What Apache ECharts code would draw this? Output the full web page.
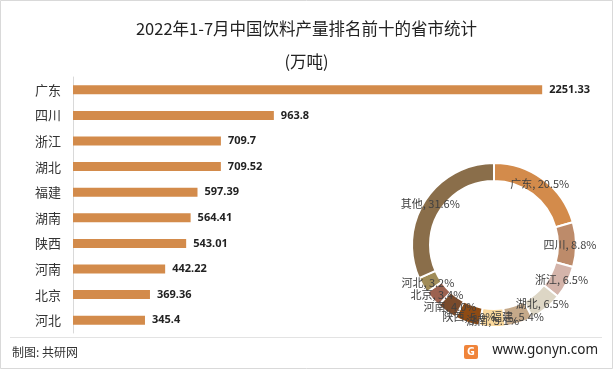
<!DOCTYPE html>
<html><head><meta charset="utf-8">
<script src="https://cdn.jsdelivr.net/npm/echarts@6/dist/echarts.min.js"></script>
<style>html,body{margin:0;padding:0;background:#fff}#c{width:613px;height:369px}</style>
</head><body><div id="c"></div>
<script>
var provinces = ['广东','四川','浙江','湖北','福建','湖南','陕西','河南','北京','河北'];
var output = [2251.33,963.8,709.7,709.52,597.39,564.41,543.01,442.22,369.36,345.4];
var otherName = '其他';
var otherValue = 3468;
var pieColors = ['#D38B4B','#BD8B6A','#D4B4AA','#DDD6C5','#C5A98A','#FAD89B','#8E4B14','#7A4B2C','#9C6250','#A08C58','#8A6E4A'];

var pieData = provinces.map(function(n,i){return {name:n,value:output[i]};});
pieData.push({name:otherName,value:otherValue});
var total = pieData.reduce(function(s,d){return s+d.value;},0);

var chart = echarts.init(document.getElementById('c'));
chart.setOption({
  animation:false,
  backgroundColor:'#fff',
  title:{text:'2022年1-7月中国饮料产量排名前十的省市统计\n(万吨)',left:'center',top:7,
    textStyle:{fontFamily:'Noto Sans CJK SC',fontWeight:'normal',fontSize:16.5,color:'#222',lineHeight:33}},
  grid:{left:73,top:77,width:521,height:256,containLabel:false},
  xAxis:{type:'value',min:0,max:2500,show:false},
  yAxis:{type:'category',data:provinces,inverse:true,
    axisLine:{show:true,lineStyle:{color:'#d9d9d9'}},axisTick:{show:false},
    axisLabel:{margin:12,fontSize:13,color:'#333',fontFamily:'Noto Sans CJK SC'}},
  series:[{type:'bar',data:output,barWidth:9,itemStyle:{color:'#D38B4B'},
    label:{show:true,position:'right',distance:7,fontSize:11,fontWeight:'bold',color:'#222',fontFamily:'Noto Sans'}},
  {type:'pie',center:[494,245],radius:[64,82],startAngle:90,clockwise:true,
    avoidLabelOverlap:false,
    data:pieData,
    itemStyle:{borderColor:'#fff',borderWidth:2},
    color:pieColors,
    labelLayout:{hideOverlap:false},
    label:{show:true,position:'inside',fontSize:11,color:'#404040',fontFamily:'Noto Sans CJK SC',overflow:'none',
      formatter:function(p){return p.name+', '+(p.value/total*100).toFixed(1)+'%';}},
    labelLine:{show:false},emphasis:{disabled:true}}],
  graphic:[
    {type:'rect',shape:{x:0.5,y:0.5,width:612,height:368},style:{fill:'none',stroke:'#d9d9d9',lineWidth:1}},
    {type:'line',shape:{x1:10,y1:337.5,x2:602,y2:337.5},style:{stroke:'#e3e3e3',lineWidth:1}},
    {type:'text',left:12,top:346,style:{text:'制图: 共研网',fontSize:12,fill:'#333',fontFamily:'Noto Sans CJK SC'}},
    {type:'rect',shape:{x:464,y:345,width:14,height:14,r:2},style:{fill:'#F0843A'}},
    {type:'text',x:471,y:352,style:{text:'G',fontSize:11,fontWeight:'bold',fill:'#fff',fontFamily:'Noto Sans',align:'center',verticalAlign:'middle'}},
    {type:'text',right:15,top:343,style:{text:'www.gonyn.com',fontSize:13.5,fill:'#222',fontFamily:'Noto Sans'}}
  ]
});
</script></body></html>
